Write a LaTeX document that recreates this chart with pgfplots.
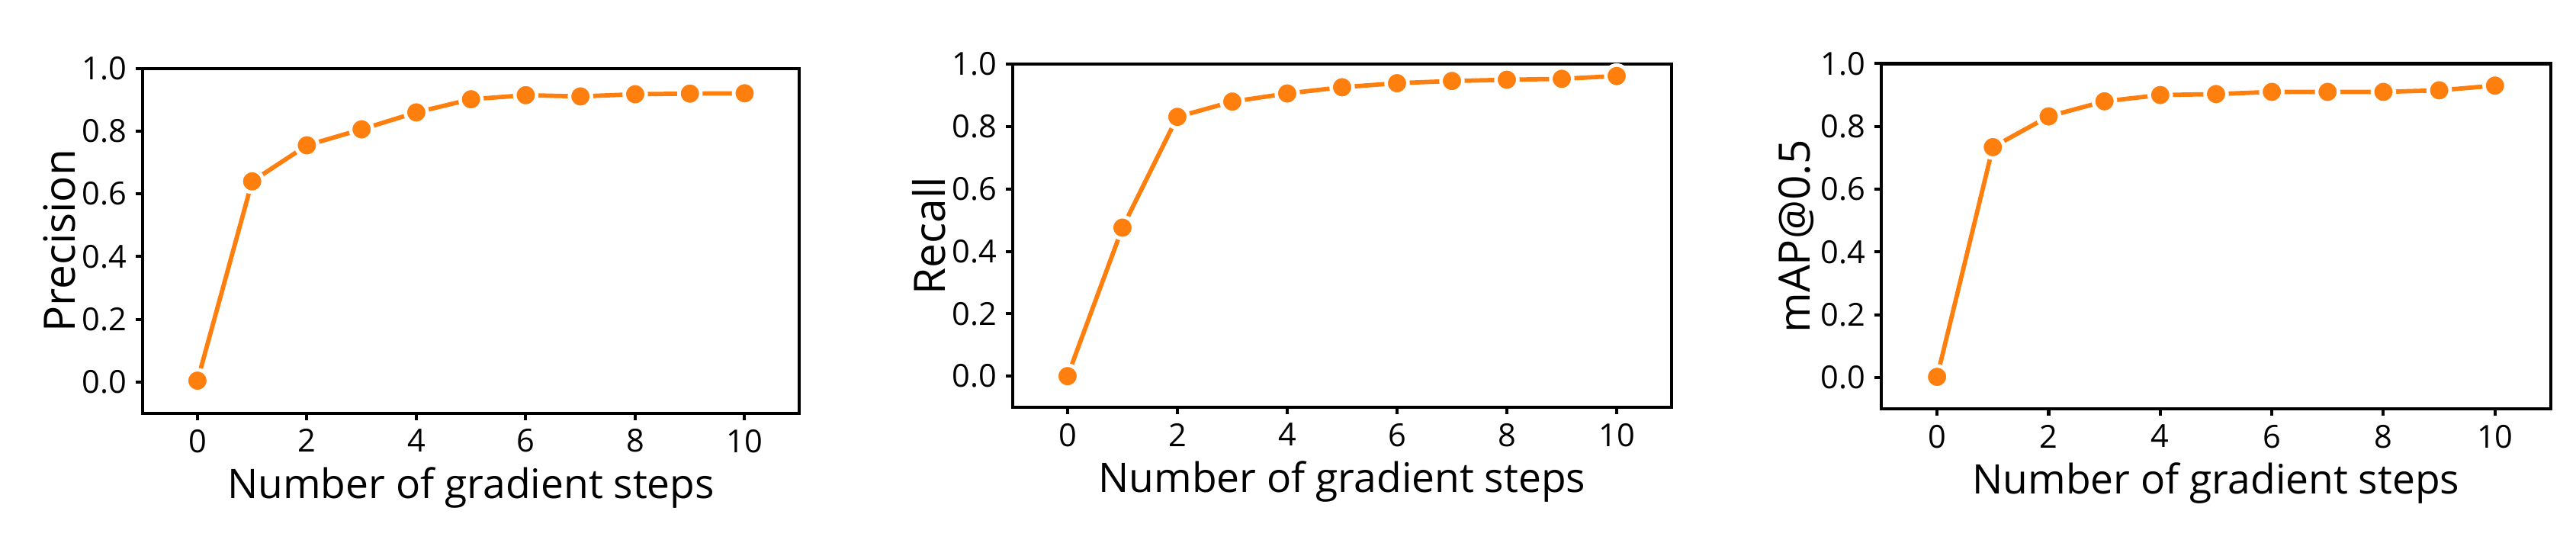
\documentclass[border=0pt]{standalone}
\usepackage{fontspec}
\setmainfont{Open Sans}
\usepackage{pgfplots}
\pgfplotsset{compat=1.18}
\definecolor{myorange}{RGB}{255,127,14}
\pgfplotsset{
  panel/.style={
    scale only axis,
    anchor=south west,
    xmin=-1, xmax=11, ymin=-0.1, ymax=1.0,
    xtick={0,2,4,6,8,10},
    ytick={0,0.2,0.4,0.6,0.8,1.0},
    yticklabel style={/pgf/number format/.cd,fixed,fixed zerofill,precision=1},
    /pgf/number format/assume math mode=true,
    ticklabel style={font=\fontsize{12.3}{14}\selectfont},
    tick align=outside,
    xtick pos=bottom, ytick pos=left,
    major tick length=2.7pt,
    tick style={black, line width=1.2pt},
    axis line style={black, line width=1.3pt},
    xlabel={Number of gradient steps},
    xlabel style={font=\fontsize{15.8}{18}\selectfont, at={(axis description cs:0.5,0)}, yshift=-33pt, anchor=base},
    ylabel style={font=\fontsize{16.8}{19}\selectfont, at={(axis description cs:-0.127,0.5)}, anchor=center},
    clip=false,
  },
  series/.style={color=myorange, line width=1.7pt, mark=*, mark size=4.25pt,
    mark options={fill=myorange, draw=white, line width=1.4pt}},
}
\begin{document}
\begin{tikzpicture}
\path[use as bounding box] (0,0) rectangle (1000pt,209.3pt);
\begin{axis}[panel, at={(55.4pt,48.9pt)}, width=254.9pt, height=133.8pt, ylabel={Precision}]
\addplot[series] coordinates {(0,0.004) (1,0.640) (2,0.755) (3,0.806) (4,0.860) (5,0.902) (6,0.915) (7,0.911) (8,0.918) (9,0.920) (10,0.921)};
\end{axis}
\begin{axis}[panel, at={(393.1pt,51.2pt)}, width=255.8pt, height=133.2pt, ylabel={Recall}]
\addplot[series] coordinates {(0,0.0) (1,0.476) (2,0.831) (3,0.880) (4,0.906) (5,0.926) (6,0.939) (7,0.946) (8,0.950) (9,0.953) (10,0.962)};
\end{axis}
\begin{axis}[panel, at={(730.3pt,50.6pt)}, width=259.9pt, height=134pt, ylabel={mAP@0.5}]
\addplot[series] coordinates {(0,0.002) (1,0.734) (2,0.832) (3,0.880) (4,0.900) (5,0.903) (6,0.910) (7,0.910) (8,0.910) (9,0.915) (10,0.930)};
\end{axis}
\end{tikzpicture}
\end{document}
